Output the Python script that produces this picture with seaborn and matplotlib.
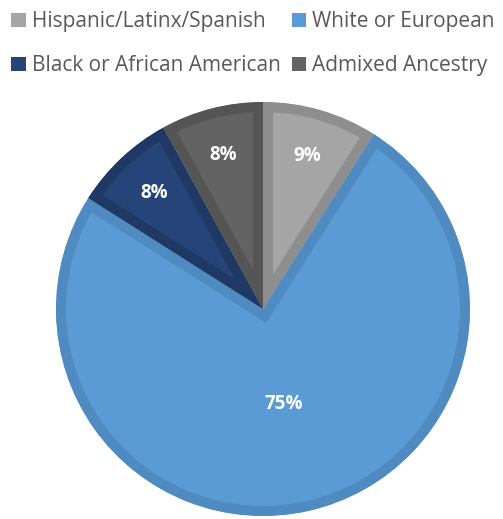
import matplotlib
matplotlib.use("Agg")
import matplotlib.pyplot as plt
from matplotlib.patches import Patch
import numpy as np
import seaborn as sns

categories = ["Hispanic/Latinx/Spanish", "White or European",
              "Black or African American", "Admixed Ancestry"]
shares = [9, 75, 8, 8]
fill_colors = ["#A5A5A5", "#5B9BD5", "#264478", "#636363"]
edge_colors = ["#8E8E8E", "#4F8AC0", "#1F3864", "#555555"]

sns.set_theme(style="white")
plt.rcParams["font.family"] = ["Open Sans", "DejaVu Sans"]

W, H, DPI = 503, 519, 100
fig = plt.figure(figsize=(W / DPI, H / DPI), dpi=DPI)
cx, cy, r = 263, 309, 207
ax = fig.add_axes([(cx - r) / W, (H - cy - r) / H, 2 * r / W, 2 * r / H])

wedges, _ = ax.pie(shares, colors=fill_colors, startangle=90, counterclock=False,
                   radius=1.0, wedgeprops=dict(linewidth=14.5))
for w, ec in zip(wedges, edge_colors):
    w.set_edgecolor(ec)
    w.set_clip_on(True)
    w.set_clip_path(w)  # keep only the inner half of the outline

total = sum(shares)
for w, v in zip(wedges, shares):
    mid = np.deg2rad((w.theta1 + w.theta2) / 2)
    d = 0.47 if v / total > 0.5 else 0.77
    ax.text(d * np.cos(mid), d * np.sin(mid), f"{v}%", ha="center", va="center",
            color="white", fontsize=13.5, fontweight="bold")

ax.set_xlim(-1, 1)
ax.set_ylim(-1, 1)
ax.set_aspect("equal")
ax.axis("off")

# two legend rows: matplotlib fills columns first
order = [0, 2, 1, 3]
handles = [Patch(facecolor=fill_colors[i], edgecolor="none") for i in order]
labels = [categories[i] for i in order]
fig.legend(handles, labels, loc="upper left", bbox_to_anchor=(0.0, 1.0),
           ncol=2, frameon=False, fontsize=15, labelcolor="#595959",
           handlelength=0.7, handleheight=0.7, handletextpad=0.3,
           columnspacing=0.5, labelspacing=1.1, borderaxespad=0.15)

fig.savefig("out.png", dpi=DPI)
